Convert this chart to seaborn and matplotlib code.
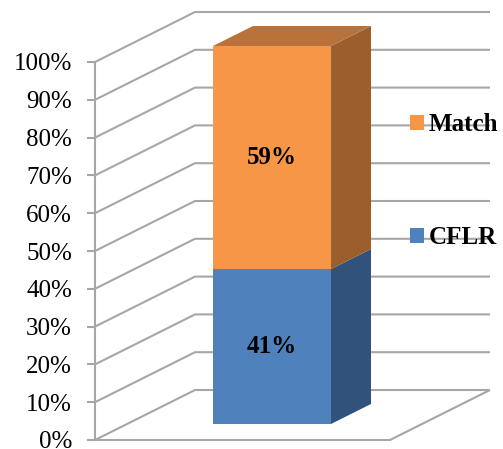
import numpy as np
import pandas as pd
import matplotlib
matplotlib.use("Agg")
import matplotlib.pyplot as plt
import matplotlib.transforms as mtransforms
from matplotlib.patches import Polygon, Patch
from matplotlib.lines import Line2D
import seaborn as sns

# ---------------- data ----------------
categories = ["All"]
series = ["CFLR", "Match"]
cflr_values = [41]
match_values = [59]
y_ticks = [0, 10, 20, 30, 40, 50, 60, 70, 80, 90, 100]
y_tick_labels = [f"{t}%" for t in y_ticks]

# ---------------- style ----------------
front_colors = {"CFLR": "#4F81BD", "Match": "#F79646"}
side_colors = {"CFLR": "#31527A", "Match": "#9B5E2C"}
top_color = "#B9733A"
grid_color = "#A6A6A6"
serif = ["Liberation Serif", "DejaVu Serif"]

sns.set_theme(style="white")
plt.rcParams["font.family"] = serif
plt.rcParams["text.color"] = "black"

W, H, DPI = 503, 449, 100
fig = plt.figure(figsize=(W / DPI, H / DPI), dpi=DPI)
fig.patch.set_facecolor("white")

# front plane of the 3D box: x 95..495 px, y 440 (0%) .. 62 (100%)
ax_left_px, ax_bottom_px, ax_w_px, ax_h_px = 95, H - 440, 400, 378
ax = fig.add_axes([ax_left_px / W, ax_bottom_px / H, ax_w_px / W, ax_h_px / H])
ax.set_facecolor("none")

ux = 118 / 0.8          # px per categorical unit
uy = ax_h_px / 100.0    # px per percent
bar_center_px = 147
x0 = -bar_center_px / ux

# depth of the box (px), bar offset in depth and bar depth
box_dx, box_dy = 100, 50
bar_off_dx, bar_off_dy = 30, 16
bar_dx, bar_dy = 40, 20

# ---------- stacked bar via seaborn ----------
df = pd.DataFrame({
    "category": categories,
    "CFLR": cflr_values,
    "Match": match_values,
})
df["total"] = df["CFLR"] + df["Match"]

sns.barplot(data=df, x="category", y="total", color=front_colors["Match"],
            width=0.8, ax=ax, saturation=1, zorder=3)
sns.barplot(data=df, x="category", y="CFLR", color=front_colors["CFLR"],
            width=0.8, ax=ax, saturation=1, zorder=3)

ax.set_xlim(x0, x0 + ax_w_px / ux)
ax.set_ylim(0, 100)

shift = ax.transData + mtransforms.ScaledTranslation(bar_off_dx / DPI, bar_off_dy / DPI,
                                                     fig.dpi_scale_trans)
for p in ax.patches:
    p.set_transform(shift)
    p.set_linewidth(0)
    p.set_clip_on(False)

# ---------- back wall / floor gridlines ----------
back_right = x0 + 395 / ux
for t in y_ticks:
    xs = [x0, x0 + box_dx / ux, back_right]
    ys = [t, t + box_dy / uy, t + box_dy / uy]
    ax.add_line(Line2D(xs, ys, color=grid_color, lw=1.5, clip_on=False, zorder=1,
                       solid_capstyle="butt", solid_joinstyle="miter"))
floor_front_end = back_right - box_dx / ux
ax.add_line(Line2D([x0, floor_front_end, back_right], [0, 0, box_dy / uy],
                   color=grid_color, lw=1.5, clip_on=False, zorder=1,
                   solid_capstyle="butt", solid_joinstyle="miter"))

# side and top faces
ddx, ddy = bar_dx / ux, bar_dy / uy
for i, cat in enumerate(categories):
    xl, xr = i - 0.4, i + 0.4
    segs = [("CFLR", 0, df["CFLR"].iloc[i]),
            ("Match", df["CFLR"].iloc[i], df["total"].iloc[i])]
    for name, y0, y1 in segs:
        side = Polygon([(xr, y0), (xr, y1), (xr + ddx, y1 + ddy), (xr + ddx, y0 + ddy)],
                       closed=True, facecolor=side_colors[name], edgecolor="none",
                       transform=shift, clip_on=False, zorder=3)
        ax.add_patch(side)
    top = df["total"].iloc[i]
    ax.add_patch(Polygon([(xl, top), (xr, top), (xr + ddx, top + ddy), (xl + ddx, top + ddy)],
                         closed=True, facecolor=top_color, edgecolor="none",
                         transform=shift, clip_on=False, zorder=3))
    for name, y0, y1 in segs:
        ax.text(i, (y0 + y1) / 2, f"{int(round(y1 - y0))}%", transform=shift,
                ha="center", va="center", fontsize=18, fontweight="bold",
                family=serif, color="black", zorder=5)

# ---------- axes styling ----------
for s in ["top", "right", "bottom"]:
    ax.spines[s].set_visible(False)
ax.spines["left"].set_color(grid_color)
ax.spines["left"].set_linewidth(1.5)
ax.set_yticks(y_ticks)
ax.set_yticklabels(y_tick_labels, family=serif, fontsize=18, color="black")
ax.tick_params(axis="y", direction="out", length=5.5, width=1.5, color=grid_color, pad=11,
               left=True, labelcolor="black")
ax.set_xticks([])
ax.set_xlabel("")
ax.set_ylabel("")
ax.grid(False)

# ---------- legend ----------
handles = [Patch(facecolor=front_colors["Match"], edgecolor="none"),
           Patch(facecolor=front_colors["CFLR"], edgecolor="none")]
leg = fig.legend(handles, ["Match", "CFLR"], loc="upper left",
                 bbox_to_anchor=(410 / W, 1 - 113 / H), frameon=False,
                 prop={"family": serif, "weight": "bold", "size": 18},
                 labelcolor="black",
                 handlelength=0.55, handleheight=0.55, handletextpad=0.2,
                 labelspacing=3.6, borderpad=0, borderaxespad=0)

fig.savefig("out.png", dpi=DPI)
